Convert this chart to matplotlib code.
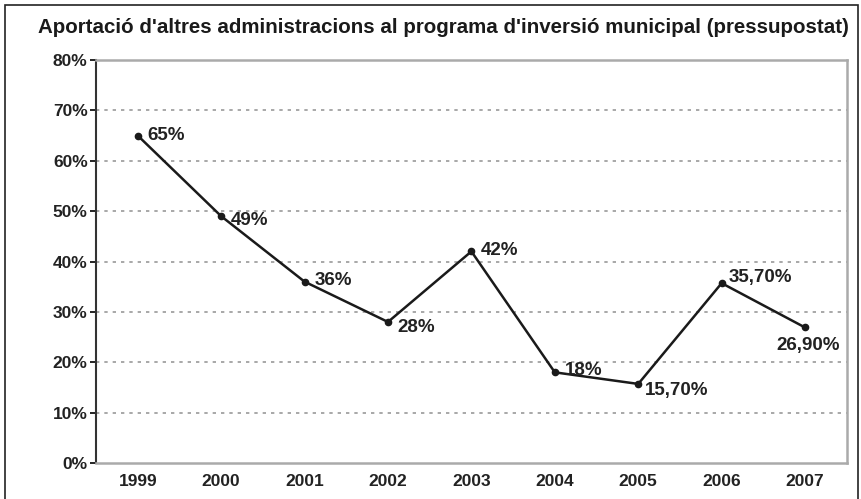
import matplotlib.pyplot as plt
from matplotlib.patches import Rectangle

years = ['1999', '2000', '2001', '2002', '2003', '2004', '2005', '2006', '2007']
values = [65, 49, 36, 28, 42, 18, 15.7, 35.7, 26.9]
labels = ['65%', '49%', '36%', '28%', '42%', '18%', '15,70%', '35,70%', '26,90%']
yticks = [0, 10, 20, 30, 40, 50, 60, 70, 80]

plt.rcParams['font.family'] = ['Liberation Sans', 'DejaVu Sans']

fig = plt.figure(figsize=(8.61, 4.99), dpi=100)
ax = fig.add_axes([0.1115, 0.0721, 0.872, 0.8077])

x = list(range(len(years)))
ax.plot(x, values, color='#1a1a1a', linewidth=1.8, marker='o', markersize=4.5)

# label offsets (points)
offsets = [(7, 0, 'left', 'center'), (7, -3, 'left', 'center'), (7, 1, 'left', 'center'),
           (7, -4, 'left', 'center'), (7, 1, 'left', 'center'), (7, 1, 'left', 'center'),
           (5, -5, 'left', 'center'), (5, 4, 'left', 'center'), (2, -13, 'center', 'center')]
for xi, v, lab, (dx, dy, ha, va) in zip(x, values, labels, offsets):
    ax.annotate(lab, (xi, v), xytext=(dx, dy), textcoords='offset points',
                ha=ha, va=va, fontsize=13.5, fontweight='bold', color='#222222')

ax.set_xlim(-0.5, 8.5)
ax.set_ylim(0, 80)
ax.set_yticks(yticks)
ax.set_yticklabels([f'{t}%' for t in yticks], fontsize=12.5, fontweight='bold', color='#222222')
ax.set_xticks(x)
ax.set_xticklabels(years, fontsize=12.5, fontweight='bold', color='#222222')
ax.tick_params(axis='x', length=0, pad=8)
ax.tick_params(axis='y', length=4, width=1.2, pad=2)

for t in yticks[1:-1]:
    ax.axhline(t, color='#999999', linestyle=(0, (2, 3)), linewidth=1.2, zorder=0)

ax.spines['left'].set_color('#333333')
ax.spines['left'].set_linewidth(1.5)
for s in ['top', 'right', 'bottom']:
    ax.spines[s].set_color('#aaaaaa')
    ax.spines[s].set_linewidth(1.8)

fig.text(0.044, 0.944, "Aportació d'altres administracions al programa d'inversió municipal (pressupostat)",
         fontsize=14.8, fontweight='bold', color='#1a1a1a', va='center', ha='left')

fig.patches.append(Rectangle((0.006, -0.01), 0.99, 1.0, transform=fig.transFigure,
                             fill=False, edgecolor='#222222', linewidth=1.2))

fig.savefig('out.png', dpi=100)
